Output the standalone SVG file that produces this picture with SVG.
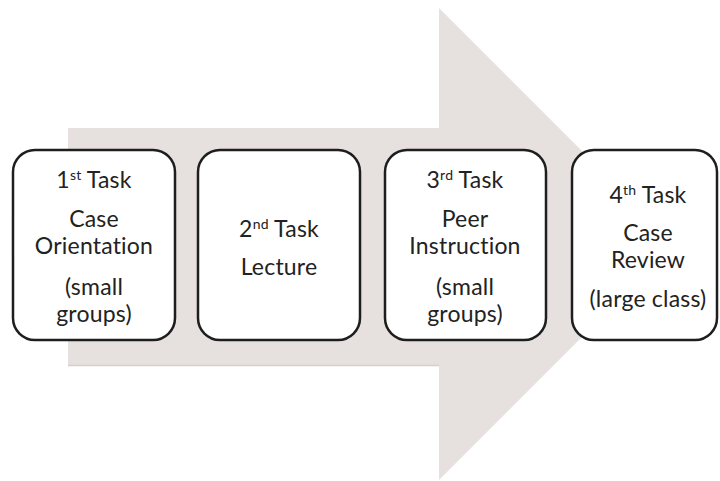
<svg xmlns="http://www.w3.org/2000/svg" width="720" height="481" viewBox="0 0 720 481">
<style>
.box{fill:#ffffff;stroke:#1e1e1e;stroke-width:2.5}
.t{font-family:Lato,"Open Sans","Liberation Sans",sans-serif;font-size:23px;letter-spacing:0.2px;fill:#222222;text-anchor:middle}
.sup{font-size:14px}
</style>
<rect width="720" height="481" fill="#ffffff"/>
<g id="arrow">
<polygon points="68,128 439,128 439,8 675,244 439,480 439,365 68,365" fill="#e6e1de"/>
<line x1="68" y1="365.5" x2="439" y2="365.5" stroke="#d6d0cc" stroke-width="1.5"/>
</g>
<g id="connectors"></g>
<g id="task1">
<rect class="box" x="13" y="150" width="162" height="190" rx="22"/>
<text class="t" x="94" y="188">1<tspan class="sup" dy="-8">st</tspan><tspan dy="8"> Task</tspan></text>
<text class="t" x="94" y="227">Case</text>
<text class="t" x="94" y="254">Orientation</text>
<text class="t" x="94" y="295">(small</text>
<text class="t" x="94" y="322">groups)</text>
</g>
<g id="task2">
<rect class="box" x="198" y="150" width="162" height="190" rx="22"/>
<text class="t" x="279" y="237">2<tspan class="sup" dy="-8">nd</tspan><tspan dy="8"> Task</tspan></text>
<text class="t" x="279" y="275">Lecture</text>
</g>
<g id="task3">
<rect class="box" x="385" y="150" width="161" height="190" rx="22"/>
<text class="t" x="465" y="188">3<tspan class="sup" dy="-8">rd</tspan><tspan dy="8"> Task</tspan></text>
<text class="t" x="465" y="227">Peer</text>
<text class="t" x="465" y="254">Instruction</text>
<text class="t" x="465" y="295">(small</text>
<text class="t" x="465" y="322">groups)</text>
</g>
<g id="task4">
<rect class="box" x="572" y="150" width="145" height="190" rx="22"/>
<text class="t" x="648" y="203">4<tspan class="sup" dy="-8">th</tspan><tspan dy="8"> Task</tspan></text>
<text class="t" x="648" y="240.5">Case</text>
<text class="t" x="648" y="267.5">Review</text>
<text class="t" x="648" y="307">(large class)</text>
</g>
</svg>
